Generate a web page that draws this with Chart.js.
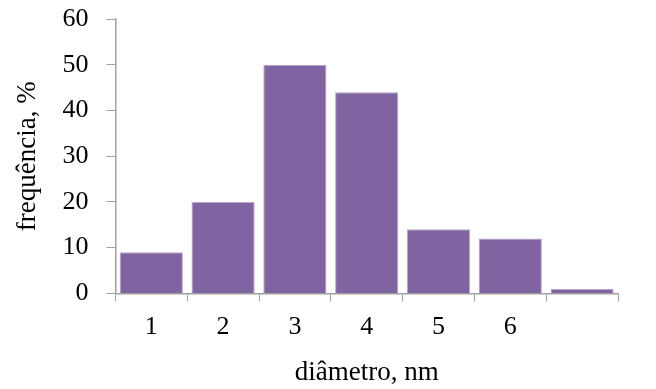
<!DOCTYPE html>
<html>
<head>
<meta charset="utf-8">
<script src="https://cdn.jsdelivr.net/npm/chart.js@4"></script>
<style>
  html, body { margin: 0; padding: 0; background: #fff; }
  #wrap { width: 656px; height: 389px; }
</style>
</head>
<body>
<div id="wrap"><canvas id="chart" width="656" height="389"></canvas></div>
<script>
// diâmetro (nm) – a última classe não tem rótulo
const categories = ['1', '2', '3', '4', '5', '6', ''];
// frequência, %
const frequencies = [9, 20, 50, 44, 14, 12, 1];
const yTicks = [0, 10, 20, 30, 40, 50, 60];

const axisColor = '#a0a0a0';
const serif = "'Liberation Serif', 'Times New Roman', serif";

new Chart(document.getElementById('chart'), {
  type: 'bar',
  data: {
    labels: categories,
    datasets: [{
      data: frequencies,
      backgroundColor: '#8064a2',
      borderColor: '#b8a6cc',
      borderWidth: 1,
      barPercentage: 0.88,
      categoryPercentage: 1
    }]
  },
  options: {
    responsive: false,
    animation: false,
    layout: { padding: { top: 0, right: 38, left: 8, bottom: 0 } },
    plugins: {
      legend: { display: false },
      tooltip: { enabled: false }
    },
    scales: {
      x: {
        grid: { drawOnChartArea: false, drawTicks: true, tickLength: 8, color: axisColor, offset: true },
        border: { color: axisColor, width: 1.5 },
        ticks: { color: '#000', font: { family: serif, size: 26 }, padding: 10 },
        title: { display: true, text: 'diâmetro, nm', color: '#000', font: { family: serif, size: 27 }, padding: { top: 4, bottom: 0 } }
      },
      y: {
        min: 0,
        max: 60,
        afterBuildTicks: axis => { axis.ticks = yTicks.map(v => ({ value: v })); },
        // tick padding also pads the top of the axis; keep the plot top where it is in the original
        afterFit: axis => { axis.paddingTop = 19; axis.paddingBottom = 10; },
        grid: { drawOnChartArea: false, drawTicks: true, tickLength: 9, color: axisColor },
        border: { color: axisColor, width: 1.5 },
        ticks: { color: '#000', font: { family: serif, size: 26 }, padding: 18 },
        title: { display: true, text: 'frequência, %', color: '#000', font: { family: serif, size: 27 }, padding: { bottom: 0 } }
      }
    }
  }
});
</script>
</body>
</html>
